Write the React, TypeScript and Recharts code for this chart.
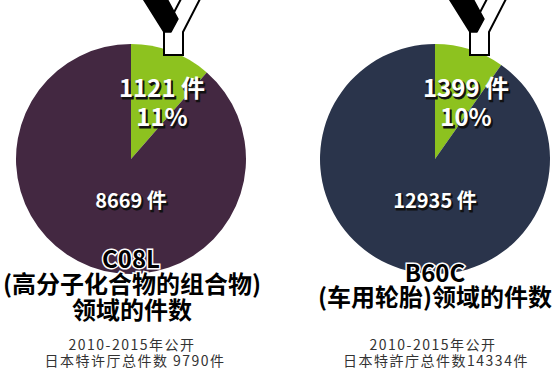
import React from 'react';
import { PieChart, Pie, Cell } from 'recharts';

const sliceNames = ['Y', 'other'];
const leftCounts = [1121, 8669];
const rightCounts = [1399, 12935];
const leftColors = ['#8dc21f', '#432841'];
const rightColors = ['#8dc21f', '#2a344b'];
const leftTitle = ['C08L', '(高分子化合物的组合物)', '领域的件数'];
const rightTitle = ['B60C', '(车用轮胎)领域的件数'];
const leftNote = ['2010-2015年公开', '日本特许厅总件数 9790件'];
const rightNote = ['2010-2015年公开', '日本特許庁总件数14334件'];

const leftData = sliceNames.map((n, i) => ({ name: n, value: leftCounts[i] }));
const rightData = sliceNames.map((n, i) => ({ name: n, value: rightCounts[i] }));

const W = 556;
const H = 369;
const LCX = 131;
const RCX = 435;
const CY = 159;
const R = 115;
const FONT = '"Noto Sans CJK SC", "Noto Sans", sans-serif';

const ShadowText = ({ x, y, size, children }: any) => (
  <g>
    <text x={x + 1.5} y={y + 1.5} textAnchor="middle" fontFamily={FONT} fontWeight={700} fontSize={size} fill="#111" stroke="#111" strokeWidth={1}>
      {children}
    </text>
    <text x={x} y={y} textAnchor="middle" fontFamily={FONT} fontWeight={700} fontSize={size} fill="#fff">
      {children}
    </text>
  </g>
);

const renderLabel = (props: any) => {
  const { cx, cy, index, value, percent } = props;
  if (index === 0) {
    return (
      <g>
        <ShadowText x={cx + 31} y={cy - 62} size={24}>{`${value} 件`}</ShadowText>
        <ShadowText x={cx + 31} y={cy - 33} size={24}>{`${Math.round(percent * 100)}%`}</ShadowText>
      </g>
    );
  }
  return <ShadowText x={cx} y={cy + 49} size={20}>{`${value} 件`}</ShadowText>;
};

const YLogo = ({ sx }: { sx: number }) => (
  <g>
    <polygon
      points={`${sx + 9},-3 ${sx + 28},-3 ${sx + 10},32 ${sx + 10},55 ${sx - 9},55 ${sx - 9},32 ${sx - 3},20`}
      fill="#fff"
      stroke="#000"
      strokeWidth={2}
      strokeLinejoin="miter"
    />
    <polygon
      points={`${sx - 31},-3 ${sx - 7},-3 ${sx + 5},19 ${sx - 2},32 ${sx - 9},32`}
      fill="#000"
      stroke="#000"
      strokeWidth={1.5}
      strokeLinejoin="round"
    />
  </g>
);

const Overlay = () => (
  <svg width={W} height={H} style={{ position: 'absolute', left: 0, top: 0, pointerEvents: 'none' }}>
    <g fontFamily={FONT}>
      <YLogo sx={LCX + 42} />
      <YLogo sx={RCX + 44} />
      <g fontWeight={700} fontSize={24} fill="#000" stroke="#fff" strokeWidth={3} paintOrder="stroke" textAnchor="middle">
        <text x={LCX} y={268}>{leftTitle[0]}</text>
        <text x={LCX + 1} y={293} textLength={258} lengthAdjust="spacing">{leftTitle[1]}</text>
        <text x={LCX + 1} y={319}>{leftTitle[2]}</text>
        <text x={RCX} y={282}>{rightTitle[0]}</text>
        <text x={RCX} y={306}>{rightTitle[1]}</text>
      </g>
      <g fontSize={14} fill="#333" textAnchor="middle" letterSpacing={1.5}>
        <text x={LCX + 1} y={350}>{leftNote[0]}</text>
        <text x={LCX + 4} y={366}>{leftNote[1]}</text>
        <text x={RCX - 2} y={350}>{rightNote[0]}</text>
        <text x={RCX + 1} y={366}>{rightNote[1]}</text>
      </g>
    </g>
  </svg>
);

export default function App() {
  return (
    <div style={{ position: 'absolute', left: 0, top: 0, width: W, height: H, background: '#fff' }}>
      <PieChart width={W} height={H} margin={{ top: 0, right: 0, bottom: 0, left: 0 }}>
        <Pie
          data={leftData}
          dataKey="value"
          nameKey="name"
          cx={LCX}
          cy={CY}
          outerRadius={R}
          startAngle={90}
          endAngle={-270}
          stroke="none"
          label={renderLabel}
          labelLine={false}
          isAnimationActive={false}
        >
          {leftData.map((d, i) => (
            <Cell key={d.name} fill={leftColors[i]} />
          ))}
        </Pie>
        <Pie
          data={rightData}
          dataKey="value"
          nameKey="name"
          cx={RCX}
          cy={CY}
          outerRadius={R}
          startAngle={90}
          endAngle={-270}
          stroke="none"
          label={renderLabel}
          labelLine={false}
          isAnimationActive={false}
        >
          {rightData.map((d, i) => (
            <Cell key={d.name} fill={rightColors[i]} />
          ))}
        </Pie>
      </PieChart>
      <Overlay />
    </div>
  );
}
